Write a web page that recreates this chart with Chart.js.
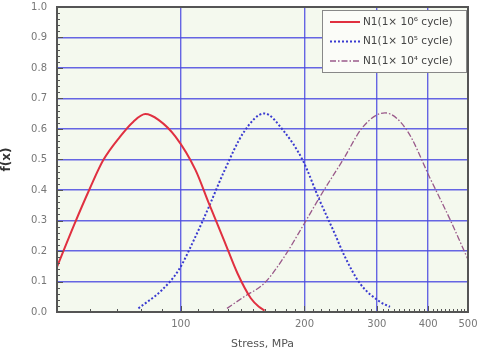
<!DOCTYPE html>
<html>
<head>
<meta charset="utf-8">
<script src="https://cdn.jsdelivr.net/npm/chart.js@4"></script>
<style>
  html, body { margin: 0; padding: 0; background: #fff; }
  #wrap { width: 478px; height: 351px; position: relative; }
</style>
</head>
<body>
<div id="wrap"><canvas id="chart"></canvas></div>
<script>
// data
const labels = ["N1(1\u00d7 10\u2076 cycle)", "N1(1\u00d7 10\u2075 cycle)", "N1(1\u00d7 10\u2074 cycle)"];

const stress_1e6 = [50, 55, 60.1, 64.8, 71.2, 76.7, 82, 88.3, 97.1, 108.6, 117.1, 127.4, 137.4, 148.1, 155, 160];
const f_1e6 = [0.148, 0.285, 0.405, 0.498, 0.575, 0.624, 0.649, 0.63, 0.575, 0.466, 0.356, 0.236, 0.127, 0.045, 0.017, 0.005];

const stress_1e5 = [78.9, 90, 98.9, 108.6, 117.1, 127.4, 142.6, 159.6, 178.6, 198, 217.6, 236.8, 250.9, 272.8, 305, 322.9];
const f_1e5 = [0.012, 0.072, 0.138, 0.247, 0.345, 0.46, 0.591, 0.651, 0.591, 0.498, 0.367, 0.258, 0.181, 0.094, 0.034, 0.017];

const stress_1e4 = [129.6, 142.6, 159.6, 178.6, 200, 219.7, 248, 278, 313.9, 354.6, 404.5, 452.6, 500];
const f_1e4 = [0.012, 0.05, 0.094, 0.181, 0.291, 0.385, 0.498, 0.608, 0.653, 0.597, 0.438, 0.302, 0.172];

const xTicks = [100, 200, 300, 400, 500];

function toPoints(xs, ys) {
  return xs.map((x, i) => ({ x: x, y: ys[i] }));
}

const gridBlue = "rgba(75,75,225,0.85)";
const frameColor = "#555";

// plot background + frame + inner minor ticks + legend box
const plotDecor = {
  id: "plotDecor",
  beforeDraw(chart) {
    const { ctx, chartArea: a } = chart;
    ctx.save();
    ctx.fillStyle = "#f4f9ee";
    ctx.fillRect(a.left, a.top, a.right - a.left, a.bottom - a.top);
    ctx.restore();
  },
  afterDatasetsDraw(chart) {
    const { ctx, chartArea: a, scales } = chart;
    ctx.save();
    ctx.strokeStyle = frameColor;
    ctx.lineWidth = 1;
    // y minor ticks
    for (let v = 0; v <= 1.0001; v += 0.02) {
      const y = Math.round(scales.y.getPixelForValue(v)) + 0.5;
      const len = Math.abs(v * 10 - Math.round(v * 10)) < 0.001 ? 6 : 3;
      ctx.beginPath();
      ctx.moveTo(a.left, y);
      ctx.lineTo(a.left + len, y);
      ctx.stroke();
    }
    // x minor ticks
    for (let v = 50; v <= 500; v += 10) {
      const x = Math.round(scales.x.getPixelForValue(v)) + 0.5;
      const len = v % 100 === 0 ? 6 : 3;
      ctx.beginPath();
      ctx.moveTo(x, a.bottom);
      ctx.lineTo(x, a.bottom - len);
      ctx.stroke();
    }
    ctx.lineWidth = 2;
    ctx.strokeRect(a.left, a.top, a.right - a.left, a.bottom - a.top);
    ctx.restore();
  },
  afterDraw(chart) {
    const { ctx } = chart;
    const bx = 322, by = 10, bw = 144, bh = 62;
    ctx.save();
    ctx.fillStyle = "#fbfcf8";
    ctx.fillRect(bx, by, bw, bh);
    ctx.strokeStyle = "#888";
    ctx.lineWidth = 1;
    ctx.strokeRect(bx + 0.5, by + 0.5, bw, bh);
    ctx.font = "10.5px 'DejaVu Sans', sans-serif";
    ctx.textBaseline = "middle";
    chart.data.datasets.forEach((ds, i) => {
      const y = by + 12 + i * 19.5;
      ctx.strokeStyle = ds.borderColor;
      ctx.lineWidth = ds.borderWidth;
      ctx.setLineDash(ds.borderDash || []);
      ctx.beginPath();
      ctx.moveTo(bx + 8, y);
      ctx.lineTo(bx + 38, y);
      ctx.stroke();
      ctx.setLineDash([]);
      ctx.fillStyle = "#444";
      ctx.fillText(ds.label, bx + 41, y);
    });
    ctx.restore();
  }
};

new Chart(document.getElementById("chart"), {
  type: "scatter",
  data: {
    datasets: [
      {
        label: labels[0],
        data: toPoints(stress_1e6, f_1e6),
        showLine: true,
        borderColor: "#e03040",
        borderWidth: 2,
        pointRadius: 0,
        cubicInterpolationMode: "monotone"
      },
      {
        label: labels[1],
        data: toPoints(stress_1e5, f_1e5),
        showLine: true,
        borderColor: "#3a3ad0",
        borderWidth: 2,
        borderDash: [2, 2],
        pointRadius: 0,
        cubicInterpolationMode: "monotone"
      },
      {
        label: labels[2],
        data: toPoints(stress_1e4, f_1e4),
        showLine: true,
        borderColor: "#9a5a8a",
        borderWidth: 1.3,
        borderDash: [6, 2, 1.5, 2],
        pointRadius: 0,
        cubicInterpolationMode: "monotone"
      }
    ]
  },
  options: {
    responsive: true,
    maintainAspectRatio: false,
    animation: false,
    layout: { padding: { top: 7, right: 10, left: 0, bottom: 0 } },
    plugins: {
      legend: { display: false },
      tooltip: { enabled: false }
    },
    scales: {
      x: {
        type: "logarithmic",
        min: 50,
        max: 500,
        afterBuildTicks: (scale) => {
          scale.ticks = xTicks.map(v => ({ value: v }));
        },
        afterFit: (scale) => {
          scale.height = 39;
          scale.paddingLeft = 0;
          scale.paddingRight = 0;
        },
        ticks: {
          color: "#777",
          font: { size: 10, family: "'DejaVu Sans', sans-serif" },
          padding: 6,
          maxRotation: 0,
          callback: (v) => String(v)
        },
        grid: { color: gridBlue, lineWidth: 1.4, drawTicks: false },
        border: { display: false },
        title: {
          display: true,
          text: "Stress, MPa",
          color: "#555",
          font: { size: 11, family: "'DejaVu Sans', sans-serif" },
          padding: { top: 5, bottom: 0 }
        }
      },
      y: {
        min: 0,
        max: 1.0,
        afterFit: (scale) => {
          scale.width = 57;
          scale.paddingTop = 0;
          scale.paddingBottom = 0;
        },
        ticks: {
          stepSize: 0.1,
          color: "#777",
          font: { size: 10, family: "'DejaVu Sans', sans-serif" },
          padding: 10,
          callback: (v) => v.toFixed(1)
        },
        grid: { color: gridBlue, lineWidth: 1.4, drawTicks: false },
        border: { display: false },
        title: {
          display: true,
          text: "f(x)",
          color: "#333",
          font: { size: 12, weight: "bold", family: "'DejaVu Sans', sans-serif" },
          padding: { top: 0, bottom: 3 }
        }
      }
    }
  },
  plugins: [plotDecor]
});
</script>
</body>
</html>
